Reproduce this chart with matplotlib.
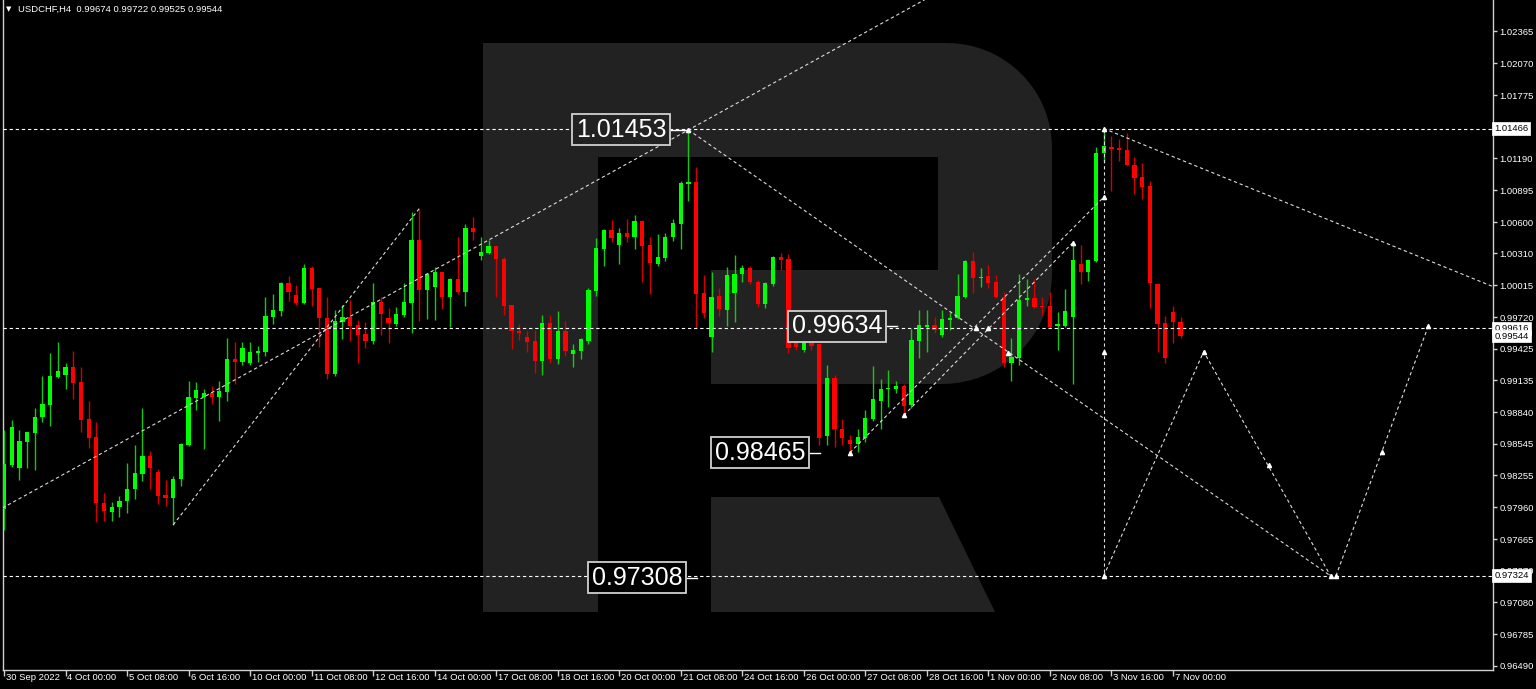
import numpy as np
import matplotlib
matplotlib.use('Agg')
import matplotlib.pyplot as plt
from matplotlib.patches import Polygon
import matplotlib.transforms as mtransforms

plt.rcParams['font.family'] = ['Liberation Sans', 'DejaVu Sans']

# USDCHF H4 candles (index 0 = 30 Sep 2022 16:00)
opens = [0.97944, 0.98350, 0.98322, 0.98563, 0.98646, 0.98794, 0.98905, 0.99163, 0.99182, 0.99256,
         0.99117, 0.98775, 0.98609, 0.97999, 0.97916, 0.97962, 0.98017, 0.98128, 0.98267, 0.98433,
         0.98285, 0.98073, 0.98045, 0.98221, 0.98535, 0.98969, 0.98978, 0.99015, 0.98978, 0.99025,
         0.99330, 0.99302, 0.99293, 0.99385, 0.99394, 0.99718, 0.99773, 1.00032, 0.99921, 0.99847,
         1.00170, 0.99986, 0.99708, 0.99191, 0.99671, 0.99718, 0.99644, 0.99561, 0.99496, 0.99856,
         0.99708, 0.99653, 0.99736, 0.99847, 1.00438, 0.99967, 0.99995, 1.00133, 0.99902, 1.00069,
         0.99949, 1.00549, 1.00281, 1.00309, 1.00374, 1.00254, 0.99829, 0.99588, 0.99533, 0.99496,
         0.99311, 0.99662, 0.99330, 0.99588, 0.99376, 0.99403, 0.99496, 0.99958, 1.00346, 1.00522,
         1.00392, 1.00494, 1.00466, 1.00614, 1.00383, 1.00207, 1.00263, 1.00457, 1.00586, 1.00956,
         1.00974, 0.99939, 0.99533, 0.99912, 0.99782, 0.99939, 1.00115, 1.00170, 1.00041, 0.99838,
         1.00023, 1.00272, 1.00254, 0.99551, 0.99413, 0.99524, 0.99468, 0.98618, 0.99154, 0.98683,
         0.98581, 0.98544, 0.98600, 0.98775, 0.98941, 0.99052, 0.99052, 0.99080, 0.98905, 0.99496,
         0.99625, 0.99644, 0.99551, 0.99690, 0.99708, 0.99902, 1.00235, 1.00078, 1.00096, 1.00041,
         0.99902, 0.99293, 0.99339, 0.99875, 0.99893, 0.99819, 0.99819, 0.99634, 0.99634, 0.99718,
         1.00207, 1.00133, 1.00235, 1.01242, 1.01298, 1.01288, 1.01270, 1.01131, 1.01020, 1.00937,
         1.00023, 0.99662, 0.99764, 0.99674]
highs = [0.98674, 0.98766, 0.98674, 0.98660, 0.98877, 0.99172, 0.99385, 0.99487, 0.99293, 0.99403,
         0.99256, 0.98941, 0.98747, 0.98091, 0.98008, 0.98064, 0.98369, 0.98535, 0.98877, 0.98479,
         0.98313, 0.98212, 0.98248, 0.98550, 0.99126, 0.99117, 0.99052, 0.99080, 0.99126, 0.99524,
         0.99487, 0.99487, 0.99487, 0.99450, 0.99902, 0.99930, 1.00041, 1.00096, 1.00013, 1.00207,
         1.00189, 0.99990, 0.99902, 0.99782, 0.99829, 0.99875, 0.99690, 0.99671, 1.00032, 0.99902,
         0.99801, 0.99810, 1.00032, 1.00697, 1.00725, 1.00124, 1.00180, 1.00140, 1.00078, 1.00457,
         1.00586, 1.00651, 1.00466, 1.00438, 1.00380, 1.00272, 0.99835, 0.99653, 0.99588, 0.99598,
         0.99736, 0.99736, 0.99773, 0.99681, 0.99468, 0.99524, 0.99986, 1.00448, 1.00531, 1.00623,
         1.00549, 1.00632, 1.00669, 1.00620, 1.00466, 1.00485, 1.00494, 1.00632, 1.00984, 1.01453,
         1.01113, 1.00106, 1.00133, 0.99986, 1.00180, 1.00291, 1.00198, 1.00189, 1.00060, 1.00041,
         1.00281, 1.00309, 1.00300, 0.99644, 0.99598, 0.99579, 0.99477, 0.99274, 0.99182, 0.98775,
         0.98627, 0.98683, 0.98858, 0.99265, 0.99145, 0.99228, 0.99126, 0.99099, 0.99607, 0.99782,
         0.99782, 0.99718, 0.99782, 0.99764, 1.00115, 1.00244, 1.00318, 1.00170, 1.00198, 1.00106,
         0.99949, 0.99524, 1.00115, 1.00069, 1.00069, 0.99902, 0.99949, 0.99764, 0.99976, 1.00401,
         1.00392, 1.00253, 1.01298, 1.01466, 1.01399, 1.01372, 1.01427, 1.01205, 1.01150, 1.00984,
         1.00032, 0.99727, 0.99819, 0.99722]
lows = [0.97750, 0.98332, 0.98212, 0.98322, 0.98304, 0.98747, 0.98710, 0.99154, 0.99052, 0.98960,
        0.98655, 0.98507, 0.97823, 0.97833, 0.97833, 0.97870, 0.97907, 0.98036, 0.98202, 0.98128,
        0.97990, 0.97971, 0.97796, 0.98156, 0.98526, 0.98858, 0.98498, 0.98914, 0.98757, 0.98941,
        0.99099, 0.99274, 0.99274, 0.99302, 0.99357, 0.99653, 0.99727, 0.99865, 0.99829, 0.99838,
        0.99819, 0.99440, 0.99145, 0.99172, 0.99514, 0.99496, 0.99293, 0.99431, 0.99468, 0.99551,
        0.99477, 0.99634, 0.99718, 0.99570, 0.99681, 0.99699, 0.99690, 0.99792, 0.99625, 0.99930,
        0.99819, 1.00438, 1.00244, 1.00300, 0.99902, 0.99736, 0.99422, 0.99505, 0.99394, 0.99200,
        0.99182, 0.99293, 0.99283, 0.99357, 0.99256, 0.99330, 0.99468, 0.99912, 1.00189, 1.00411,
        1.00207, 1.00411, 1.00346, 1.00041, 0.99930, 1.00189, 1.00235, 1.00429, 1.00346, 1.00799,
        0.99616, 0.99708, 0.99394, 0.99727, 0.99634, 0.99671, 1.00041, 1.00023, 0.99810, 0.99801,
        1.00004, 1.00152, 0.99385, 0.99413, 0.99394, 0.99413, 0.98535, 0.98535, 0.98516, 0.98535,
        0.98465, 0.98470, 0.98563, 0.98757, 0.98683, 0.98886, 0.99015, 0.98812, 0.98877, 0.99339,
        0.99394, 0.99570, 0.99533, 0.99598, 0.99699, 0.99893, 0.99939, 0.99995, 0.99986, 0.99893,
        0.99256, 0.99126, 0.99274, 0.99819, 0.99801, 0.99736, 0.99620, 0.99413, 0.99625, 0.99099,
        1.00023, 1.00050, 1.00230, 1.01159, 1.00891, 1.01168, 1.01125, 1.00863, 1.00817, 0.99801,
        0.99394, 0.99293, 0.99477, 0.99525]
closes = [0.98359, 0.98701, 0.98572, 0.98655, 0.98794, 0.98914, 0.99172, 0.99219, 0.99256, 0.99108,
          0.98766, 0.98600, 0.97999, 0.97925, 0.97962, 0.98017, 0.98128, 0.98276, 0.98433, 0.98322,
          0.98064, 0.98045, 0.98221, 0.98544, 0.98978, 0.99043, 0.99015, 0.98978, 0.99034, 0.99330,
          0.99302, 0.99431, 0.99394, 0.99403, 0.99727, 0.99782, 1.00032, 0.99949, 0.99847, 1.00170,
          0.99976, 0.99708, 0.99191, 0.99681, 0.99718, 0.99634, 0.99551, 0.99496, 0.99856, 0.99745,
          0.99662, 0.99745, 0.99856, 1.00438, 0.99967, 1.00115, 1.00133, 0.99902, 1.00069, 0.99949,
          1.00549, 1.00512, 1.00327, 1.00374, 1.00254, 0.99819, 0.99588, 0.99570, 0.99487, 0.99311,
          0.99662, 0.99330, 0.99588, 0.99403, 0.99413, 0.99514, 0.99967, 1.00364, 1.00522, 1.00448,
          1.00494, 1.00466, 1.00614, 1.00374, 1.00217, 1.00272, 1.00466, 1.00595, 1.00965, 1.00974,
          0.99930, 0.99755, 0.99902, 0.99792, 1.00106, 1.00115, 1.00170, 1.00041, 0.99838, 1.00032,
          1.00272, 1.00244, 0.99431, 0.99440, 0.99524, 0.99450, 0.98600, 0.99154, 0.98683, 0.98600,
          0.98544, 0.98609, 0.98784, 0.98960, 0.99052, 0.99062, 0.99080, 0.98895, 0.99505, 0.99644,
          0.99644, 0.99598, 0.99699, 0.99708, 0.99912, 1.00235, 1.00078, 1.00087, 1.00032, 0.99902,
          0.99293, 0.99348, 0.99875, 0.99893, 0.99810, 0.99810, 0.99625, 0.99653, 0.99773, 1.00244,
          1.00133, 1.00244, 1.01242, 1.01307, 1.01279, 1.01270, 1.01131, 1.01011, 1.00928, 1.00032,
          0.99653, 0.99339, 0.99671, 0.99544]

# bottom time axis (one label every 8 bars)
date_labels = ['30 Sep 2022', '4 Oct 00:00', '5 Oct 08:00', '6 Oct 16:00', '10 Oct 00:00',
               '11 Oct 08:00', '12 Oct 16:00', '14 Oct 00:00', '17 Oct 08:00', '18 Oct 16:00',
               '20 Oct 00:00', '21 Oct 08:00', '24 Oct 16:00', '26 Oct 00:00', '27 Oct 08:00',
               '28 Oct 16:00', '1 Nov 00:00', '2 Nov 08:00', '3 Nov 16:00', '7 Nov 00:00']
date_idx = [8 * k for k in range(len(date_labels))]

# right price scale
price_ticks = [1.02365, 1.02070, 1.01775, 1.01190, 1.00895, 1.00600, 1.00310, 1.00015,
               0.99720, 0.99425, 0.99135, 0.98840, 0.98545, 0.98255, 0.97960, 0.97665, 0.97370,
               0.97080, 0.96785, 0.96490]
boxed_prices = [1.01466, 0.99616, 0.99544, 0.97324]

# analyst drawings: levels, trend lines, forecast path (bar index, price)
levels = [1.01466, 0.99616, 0.97324]
channel_line = [(0.5, 0.97980), (89, 1.01453)]
rise_line = [(22, 0.97796), (54, 1.00725)]
fall_line = [(89, 1.01453), (172.5, 0.97324)]
upper_fall_line = [(143, 1.01466), (193, 1.00020)]
support_a = [(110, 0.98465), (143, 1.00830)]
support_b = [(117, 0.98810), (139, 1.00410)]
vertical_line = [(143, 1.01466), (143, 0.97324)]
forecast_1 = [(143, 0.97324), (156, 0.99400), (172.5, 0.97324)]
forecast_2 = [(173.2, 0.97324), (185.2, 0.99634)]
arrow_points = [(89, 1.01453), (110, 0.98465), (117, 0.98810), (126.4, 0.99620), (128, 0.99620),
                (130.5, 0.99390), (139, 1.00410), (143, 1.00830), (143, 0.99400), (143, 0.97324),
                (143, 1.01466), (156, 0.99400), (164.5, 0.98350), (172.5, 0.97324),
                (173.2, 0.97324), (179.2, 0.98470), (185.2, 0.99634)]
tag_texts = ['1.01453', '0.99634', '0.98465', '0.97308']
tag_points = [(88.9, 1.01453), (116.1, 0.99634), (106.1, 0.98465), (90.1, 0.97308)]
tag_tails = [2.2, 1.3, 1.3, 1.3]
tag_faces = ['#222222', '#222222', 'black', 'black']

W, H = 1536, 689
fig = plt.figure(figsize=(W / 100, H / 100), dpi=100, facecolor='black')

# background logo watermark (pixel space)
bg = fig.add_axes([0, 0, 1, 1], zorder=0)
bg.set_xlim(0, W)
bg.set_ylim(H, 0)
bg.axis('off')
wm = '#222222'
bg.add_patch(Polygon([(483, 43), (598, 43), (598, 612), (483, 612)], closed=True, fc=wm, ec='none'))
t1 = np.linspace(np.pi / 2, 0, 20)
t2 = np.linspace(0, -np.pi / 2, 20)
bowl = [(598, 43)]
bowl += [(947 + 105 * np.cos(t), 148 - 105 * np.sin(t)) for t in t1]
bowl += [(942 + 110 * np.cos(t), 274 - 110 * np.sin(t)) for t in t2]
bowl += [(711, 384), (711, 270), (938, 270), (938, 157), (598, 157)]
bg.add_patch(Polygon(bowl, closed=True, fc=wm, ec='none'))
bg.add_patch(Polygon([(711, 497), (939, 497), (995, 612), (711, 612)], closed=True, fc=wm, ec='none'))

ax = fig.add_axes([2.5 / W, 19 / H, 1490 / W, 670 / H], zorder=1)
ax.set_facecolor('none')
ax.set_xlim(-0.2, 193.56)
ax.set_ylim(0.96452, 1.02656)

o = np.array(opens)
h = np.array(highs)
l = np.array(lows)
c = np.array(closes)
idx = np.arange(len(o))
up = c >= o

ax.vlines(idx[up], l[up], h[up], colors='#14c814', lw=1, zorder=3)
ax.vlines(idx[~up], l[~up], h[~up], colors='#d40000', lw=1, zorder=3)
body_bottom = np.minimum(o, c)
body_height = np.maximum(np.abs(c - o), 0.00009)
ax.bar(idx[up], body_height[up], bottom=body_bottom[up], width=0.55, color='#00ff00', lw=0, zorder=4)
ax.bar(idx[~up], body_height[~up], bottom=body_bottom[~up], width=0.55, color='#ff0000', lw=0, zorder=4)

dash = (0, (3, 2.5))
for lv in levels:
    ax.axhline(lv, color='white', lw=0.8, ls=dash, zorder=5)


def extend(p0, p1, x_start, x_end):
    slope = (p1[1] - p0[1]) / (p1[0] - p0[0])
    return [x_start, x_end], [p0[1] + slope * (x_start - p0[0]), p0[1] + slope * (x_end - p0[0])]


line_col = '#dcdcdc'
xs, ys = extend(channel_line[0], channel_line[1], -0.2, 125)
ax.plot(xs, ys, color=line_col, lw=0.8, ls=dash, zorder=5)
xs, ys = extend(upper_fall_line[0], upper_fall_line[1], 143, 194)
ax.plot(xs, ys, color=line_col, lw=0.8, ls=dash, zorder=5)
for seg in [rise_line, fall_line, support_a, support_b, vertical_line, forecast_1, forecast_2]:
    ax.plot([p[0] for p in seg], [p[1] for p in seg], color=line_col, lw=0.8, ls=dash, zorder=5)
ax.plot([p[0] for p in arrow_points], [p[1] for p in arrow_points], ls='none', marker='^',
        ms=3, color='white', mec='white', zorder=6)

for txt, (xi, yi), tail, fc in zip(tag_texts, tag_points, tag_tails, tag_faces):
    ax.plot([xi - tail, xi], [yi, yi], color='white', lw=1, zorder=6)
    ax.text(xi - tail - 0.6, yi, txt, ha='right', va='center', fontsize=18, color='white', zorder=7,
            bbox=dict(boxstyle='square,pad=0.14', fc=fc, ec='#d0d0d0', lw=1.3))

# frame
for side in ['left', 'right', 'bottom']:
    ax.spines[side].set_color('#d0d0d0')
    ax.spines[side].set_linewidth(1)
ax.spines['top'].set_visible(False)

ax.set_xticks(date_idx)
ax.set_xticklabels([])
ax.tick_params(axis='x', colors='#d0d0d0', length=4, width=1, direction='out')
for di, lab in zip(date_idx, date_labels):
    ax.text(di + 0.25, -0.0115, lab, transform=ax.get_xaxis_transform(), ha='left', va='center',
            fontsize=6.8, color='white', clip_on=False)

ax.yaxis.tick_right()
ax.set_yticks(price_ticks)
ax.set_yticklabels([f'{v:.5f}' for v in price_ticks])
ax.tick_params(axis='y', colors='#d0d0d0', labelcolor='white', length=3, width=1, pad=2, labelsize=6.8)

ytrans = mtransforms.blended_transform_factory(ax.transAxes, ax.transData)
for bp in boxed_prices:
    ax.text(1.0012, bp, f'{bp:.5f}', transform=ytrans, ha='left', va='center', fontsize=6.8,
            color='black', zorder=10, clip_on=False,
            bbox=dict(boxstyle='square,pad=0.2', fc='white', ec='white', lw=0.5))

fig.text(6 / W, 1 - 9.5 / H, '▼', fontsize=5, color='white', va='center', family='DejaVu Sans')
fig.text(18 / W, 1 - 9.5 / H, 'USDCHF,H4  0.99674 0.99722 0.99525 0.99544', fontsize=6.8,
         color='white', va='center')

fig.savefig('out.png', dpi=100, facecolor='black')
